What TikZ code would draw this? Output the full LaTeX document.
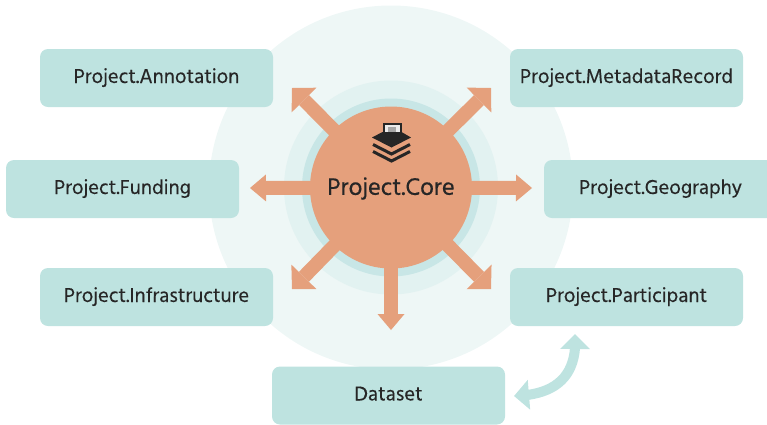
\documentclass[tikz,border=0pt]{standalone}
\usepackage{fontspec}
\setmainfont{Hind Siliguri}
\usetikzlibrary{arrows.meta,bending}
\definecolor{boxc}{HTML}{BEE3E0}
\definecolor{halo}{HTML}{EEF7F6}
\definecolor{ringa}{HTML}{E2F2F1}
\definecolor{ringb}{HTML}{C8E6E6}
\definecolor{corec}{HTML}{E5A07C}
\definecolor{inkc}{HTML}{262626}
\tikzset{
  modbox/.style={fill=boxc,rounded corners=8pt,minimum width=233pt,minimum height=58pt,inner sep=0pt,
    font=\fontsize{20.6}{23}\selectfont\addfontfeature{FakeBold=0.25}\color{inkc},text height=14pt,text depth=4pt},
  diag/.style={draw=corec,line width=14pt,-{Triangle[length=17pt,width=35pt,line width=0pt,fill=corec]}},
  axial/.style={draw=corec,line width=14pt,-{Triangle[length=16pt,width=27pt,line width=0pt,fill=corec]}},
  link/.style={draw=boxc,line width=10pt,{Triangle[length=15pt,width=29pt,fill=boxc]}-{Triangle[length=15pt,width=29pt,fill=boxc]}},
  corec node/.style={circle,fill=corec,minimum size=162pt,inner sep=0pt},
}
\begin{document}
\begin{tikzpicture}[x=1pt,y=-1pt]
\useasboundingbox (0,0) rectangle (767,424);
\clip (0,0) rectangle (767,424);
\fill[halo] (391,187.5) circle (182);
\fill[ringa] (391,187.5) circle (107);
\fill[ringb] (391,187.5) circle (89);
\node[modbox] (ann) at (156.5,78) {Project.Annotation};
\node[modbox] (meta) at (626.5,78) {Project.MetadataRecord};
\node[modbox] (fund) at (122.5,189) {Project.Funding};
\node[modbox] (geo) at (660.5,189) {Project.Geography};
\node[modbox] (infra) at (156.5,297) {Project.Infrastructure};
\node[modbox] (part) at (626.5,297) {Project.Participant};
\node[modbox] (data) at (388.5,395.5) {Dataset};
\coordinate (cc) at (391,187.5);
\coordinate (tul) at (292,88);
\coordinate (tur) at (491,88);
\coordinate (tl) at (250,188);
\coordinate (tr) at (532,188);
\coordinate (td) at (391,330);
\coordinate (tdr) at (491,289);
\coordinate (tdl) at (292,289);
\draw[diag] (cc) -- (tul);
\draw[diag] (cc) -- (tur);
\draw[diag] (cc) -- (tdr);
\draw[diag] (cc) -- (tdl);
\draw[axial] (cc) -- (tl);
\draw[axial] (cc) -- (tr);
\draw[axial] (cc) -- (td);
\node[corec node] (core) at (cc) {};
\node[font=\fontsize{24.5}{28}\selectfont\addfontfeature{FakeBold=0.25}\color{inkc},inner sep=0pt] (corelabel) at (391,188.5) {Project.Core};
% stacked-layers icon
\fill[inkc] (382.5,123) rectangle (401.5,136);
\fill[white!92!black] (384.5,125) rectangle (399.5,136);
\fill[gray!70] (388,126.5) rectangle (396,134);
\fill[inkc] (372,137.5) -- (382.5,132) -- (401.5,132) -- (411,137.5) -- (391.5,147.5) -- cycle;
\draw[inkc,line width=3pt] (373,144.5) -- (391.5,154) -- (410,144.5);
\draw[inkc,line width=3pt] (373,151.5) -- (391.5,161) -- (410,151.5);
% curved double arrow
\coordinate (la) at (514,396);
\coordinate (lb) at (575,334);
\draw[link] (la) .. controls (556,395) and (578,376) .. (lb);
\end{tikzpicture}
\end{document}
